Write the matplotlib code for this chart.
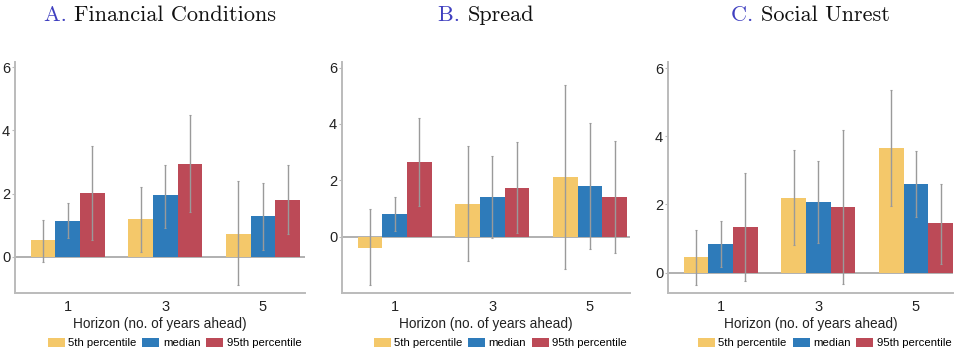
import matplotlib
matplotlib.use("Agg")
import matplotlib.pyplot as plt
from matplotlib.patches import Patch
import numpy as np

horizons = ["1", "3", "5"]
series = ["5th percentile", "median", "95th percentile"]
colors = ["#F4C86A", "#2E7BBA", "#BC4A57"]

panel_letters = ["A.", "B.", "C."]
panel_titles = ["Financial Conditions", "Spread", "Social Unrest"]

# values[panel][series][horizon]
fin_vals = [[0.53, 1.20, 0.73], [1.14, 1.97, 1.28], [2.02, 2.95, 1.81]]
fin_lo = [[-0.15, 0.16, -0.90], [0.59, 0.92, 0.21], [0.53, 1.42, 0.74]]
fin_hi = [[1.17, 2.22, 2.40], [1.69, 2.89, 2.35], [3.52, 4.50, 2.92]]

spr_vals = [[-0.39, 1.16, 2.11], [0.81, 1.41, 1.80], [2.65, 1.73, 1.41]]
spr_lo = [[-1.73, -0.88, -1.14], [0.19, -0.04, -0.43], [1.09, 0.14, -0.57]]
spr_hi = [[0.97, 3.23, 5.37], [1.41, 2.85, 4.05], [4.20, 3.36, 3.40]]

soc_vals = [[0.45, 2.20, 3.65], [0.84, 2.07, 2.61], [1.34, 1.92, 1.44]]
soc_lo = [[-0.37, 0.80, 1.94], [0.15, 0.88, 1.63], [-0.24, -0.34, 0.26]]
soc_hi = [[1.26, 3.59, 5.35], [1.52, 3.26, 3.57], [2.93, 4.17, 2.61]]

panels = [(fin_vals, fin_lo, fin_hi), (spr_vals, spr_lo, spr_hi), (soc_vals, soc_lo, soc_hi)]
ylims = [(-1.14, 6.16), (-2.0, 6.2), (-0.6, 6.18)]
xlims = [(-0.54, 2.43), (-0.54, 2.41), (-0.54, 2.38)]
positions = [(15, 305), (342, 630), (668, 953)]

W, H = 963, 352
fig = plt.figure(figsize=(W / 100, H / 100), dpi=100)
plt.rcParams['font.family'] = ['Liberation Sans', 'DejaVu Sans']

bw = 0.252
spine_col = "#BBBBBB"
for i, ((vals, lo, hi), yl, xl, (x0, x1)) in enumerate(zip(panels, ylims, xlims, positions)):
    ax = fig.add_axes([x0 / W, 1 - 293 / H, (x1 - x0) / W, (293 - 62) / H])
    x = np.arange(len(horizons))
    for s in range(3):
        xs = x + (s - 1) * bw
        v = np.array(vals[s])
        ax.bar(xs, v, width=bw, color=colors[s], edgecolor="none", zorder=2)
        ax.errorbar(xs, v, yerr=[v - np.array(lo[s]), np.array(hi[s]) - v], fmt="none",
                    ecolor="#9A9A9A", elinewidth=1.0, capsize=1.0, capthick=0.8, zorder=3)
    ax.axhline(0, color="#AAAAAA", lw=1.3, zorder=1)
    ax.set_xlim(*xl)
    ax.set_ylim(*yl)
    ax.set_xticks(x)
    ax.set_xticklabels(horizons)
    ax.set_yticks([0, 2, 4, 6])
    ax.tick_params(axis="y", length=2, width=0.8, color=spine_col, pad=1.5, labelsize=10.5, labelcolor="#222222")
    ax.tick_params(axis="x", length=0, pad=5, labelsize=10.5, labelcolor="#222222")
    for sp in ["top", "right"]:
        ax.spines[sp].set_visible(False)
    for sp in ["left", "bottom"]:
        ax.spines[sp].set_color(spine_col)
        ax.spines[sp].set_linewidth(1.4)
    ax.set_xlabel("Horizon (no. of years ahead)", fontsize=9.8, color="#222222", labelpad=2)
    handles = [Patch(facecolor=c, edgecolor="none") for c in colors]
    ax.legend(handles, series, loc="center", bbox_to_anchor=(0.55, (293 - 343) / (293 - 62)),
              ncol=3, frameon=False, fontsize=8.2, handlelength=1.5, handleheight=0.95,
              handletextpad=0.3, columnspacing=0.5, borderaxespad=0)
    cx = (x0 + x1) / 2 / W
    letter = panel_letters[i] + " "
    title = panel_titles[i]
    fs = 16
    tmp = fig.text(0, 0, letter + title, fontsize=fs, family="cmr10")
    fig.canvas.draw()
    r = fig.canvas.get_renderer()
    wtot = tmp.get_window_extent(r).width
    tmp.remove()
    tl = fig.text(cx - wtot / 2 / W, 1 - 15 / H, letter, fontsize=fs, family="cmr10",
                  color="#4040C0", va="center", ha="left")
    wl = tl.get_window_extent(r).width
    fig.text(cx - wtot / 2 / W + wl / W, 1 - 15 / H, title, fontsize=fs, family="cmr10",
             color="#111111", va="center", ha="left")

fig.savefig("out.png", dpi=100)
